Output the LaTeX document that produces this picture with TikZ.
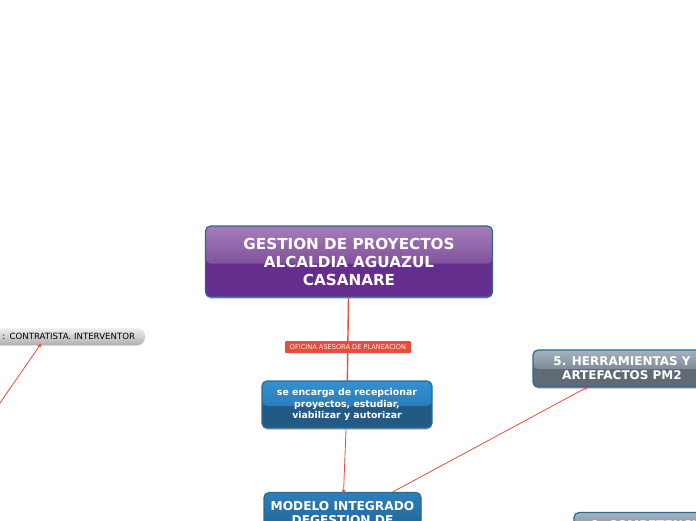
\documentclass[tikz,border=0pt]{standalone}
\usepackage{fontspec}
\setmainfont{DejaVu Sans}
\usetikzlibrary{calc,arrows.meta}
\definecolor{rootA}{HTML}{A67DB8}
\definecolor{rootB}{HTML}{80529C}
\definecolor{rootC}{HTML}{652D8D}
\definecolor{blueA}{HTML}{3490D2}
\definecolor{blueB}{HTML}{2A7DBA}
\definecolor{blueC}{HTML}{235A85}
\definecolor{modA}{HTML}{2E7FBA}
\definecolor{modB}{HTML}{22699C}
\definecolor{modC}{HTML}{1F5F8E}
\definecolor{herA}{HTML}{A5B2BD}
\definecolor{herB}{HTML}{7F8C98}
\definecolor{herC}{HTML}{5F6A75}
\definecolor{edgeRed}{HTML}{E74C3C}
\definecolor{frameBlue}{HTML}{2A6A94}
\tikzset{
  x=1pt,y=-1pt,
  glossbox/.style n args={4}{
    draw=frameBlue,line width=1.2pt,rounded corners=5pt,inner sep=0pt,
    align=center,text=white,
    preaction={fill=black!28,transform canvas={yshift=-1.5pt}},
    path picture={
      \fill[#3] (path picture bounding box.south west) rectangle (path picture bounding box.north east);
      \shade[top color=#1,bottom color=#2] (path picture bounding box.north west) rectangle
        ($(path picture bounding box.north east)!#4!(path picture bounding box.south east)$);
    }},
  pillbox/.style={rounded corners=8pt,inner ysep=0pt,inner xsep=10pt,align=right,
    top color=gray!12,bottom color=gray!62,
    preaction={fill=black!12,transform canvas={yshift=-1pt}}},
  tagbox/.style={fill=edgeRed,rounded corners=1pt,inner sep=0pt,text=white!90!edgeRed,
    font=\fontsize{6.6}{8}\selectfont},
  link/.style={draw=edgeRed,line width=.8pt},
  boldlink/.style={draw=edgeRed,line width=1.4pt},
  linkarrow/.style={link,shorten >=-2pt,-{Stealth[length=4.5pt,width=4pt]}}
}
\begin{document}
\begin{tikzpicture}
\useasboundingbox (0,0) rectangle (696,520);
\clip (0,0) rectangle (696,520);
\node[glossbox={rootA}{rootB}{rootC}{.53},minimum width=287pt,minimum height=71pt,
  font=\bfseries\fontsize{15.2}{18}\selectfont] (root) at (349,261.5)
  {GESTION DE PROYECTOS\\ALCALDIA AGUAZUL\\CASANARE};
\node[glossbox={blueA}{blueB}{blueC}{.53},minimum width=170pt,minimum height=47pt,
  font=\bfseries\fontsize{9.4}{11.6}\selectfont] (encarga) at (347,404.5)
  {se encarga de recepcionar\\proyectos, estudiar,\\viabilizar y autorizar};
\node[glossbox={modA}{modB}{modC}{.6},minimum width=157pt,minimum height=53pt,
  font=\bfseries\fontsize{12.2}{14}\selectfont] (modelo) at (342.5,519)
  {MODELO INTEGRADO\\DEGESTION DE\\[-6pt]\strut};
\node[glossbox={herA}{herB}{herC}{.51},minimum width=178pt,minimum height=37pt,
  font=\bfseries\fontsize{12}{14}\selectfont] (herr) at (622,368.5)
  {5. HERRAMIENTAS Y\\ARTEFACTOS PM2};
\node[glossbox={herA}{herB}{herC}{.51},minimum width=156pt,minimum height=43pt,
  font=\bfseries\fontsize{12}{14}\selectfont] (comp) at (652,534)
  {6. COMPETENCIAS\\\strut};
\node[pillbox,minimum height=17pt,text width=178pt,
  font=\fontsize{8.6}{10}\selectfont] (pill) at (46,336.5)
  {: CONTRATISTA. INTERVENTOR};
\coordinate (offleft) at (-7,413);
\path[boldlink] (root) -- (encarga);
\path[linkarrow] (encarga) -- (modelo);
\path[linkarrow] (modelo) -- (herr);
\path[linkarrow] (offleft) -- (pill);
\node[tagbox,minimum width=126pt,minimum height=12pt] (oficina) at (348,347) {OFICINA ASESORA DE PLANEACION};
\end{tikzpicture}
\end{document}
